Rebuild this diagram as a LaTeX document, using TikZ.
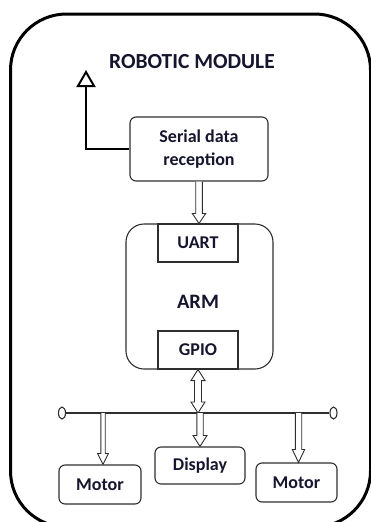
\documentclass[tikz,border=0pt]{standalone}
\usepackage{fontspec}
\setmainfont{Carlito}
\usetikzlibrary{arrows.meta,calc,shapes.geometric}
\definecolor{boxgray}{HTML}{2E2E2E}
\definecolor{txt}{HTML}{15152E}
\newcommand\blkdown[5]{%
  \draw[blk] let \p1=(#1), \p2=(#2) in
    (\x1-#3,\y1) -- (\x1-#3,\y2+#5) -- (\x1-#4,\y2+#5) -- (\x1,\y2)
    -- (\x1+#4,\y2+#5) -- (\x1+#3,\y2+#5) -- (\x1+#3,\y1);}
\newcommand\blkboth[5]{%
  \draw[blk] let \p1=(#1), \p2=(#2) in
    (\x1,\y1) -- (\x1+#4,\y1-#5) -- (\x1+#3,\y1-#5) -- (\x1+#3,\y2+#5)
    -- (\x1+#4,\y2+#5) -- (\x1,\y2) -- (\x1-#4,\y2+#5) -- (\x1-#3,\y2+#5)
    -- (\x1-#3,\y1-#5) -- (\x1-#4,\y1-#5) -- cycle;}
\begin{document}
\begin{tikzpicture}[x=1pt,y=-1pt,
  txtfont/.style={font=\bfseries\fontsize{18}{23}\selectfont, text=txt},
  box/.style={draw=boxgray, line width=1.1pt, rounded corners=6pt, txtfont,
    align=center, inner sep=0pt},
  subbox/.style={draw=boxgray, line width=1.1pt, txtfont, inner sep=0pt},
  blk/.style={draw=boxgray, line width=0.9pt, fill=white, line join=miter}]
\useasboundingbox (0,0) rectangle (371,522);
\clip (0,0) rectangle (371,522);
% outer frame
\node[draw=black, line width=3pt, rounded corners=56pt,
  minimum width=360pt, minimum height=513pt, inner sep=0pt] (frame) at (190.5,270.5) {};
\node[font=\bfseries\fontsize{21.5}{24}\selectfont, text=txt] (title) at (192,62) {ROBOTIC MODULE};
% boxes
\node[box, minimum width=138pt, minimum height=64pt] (ser) at (199,149) {Serial data\\reception};
\node[box, rounded corners=18pt, minimum width=147pt, minimum height=145pt] (arm) at (199.5,296.5) {};
\node[font=\bfseries\fontsize{20.5}{24}\selectfont, text=txt] (armlabel) at (198,302) {ARM};
\node[subbox, minimum width=80pt, minimum height=38pt] (uart) at (198,243) {UART};
\node[subbox, minimum width=80pt, minimum height=38pt] (gpio) at (198,350) {GPIO};
\node[box, minimum width=82pt, minimum height=39pt] (m1) at (100,484.5) {Motor};
\node[box, minimum width=90pt, minimum height=37pt] (disp) at (200,465.5) {Display};
\node[box, minimum width=81pt, minimum height=39pt] (m2) at (296.5,482.5) {Motor};
% bus
\node[draw=boxgray, line width=1.1pt, ellipse, minimum width=7pt, minimum height=12pt, inner sep=0pt] (busL) at (62,413) {};
\node[draw=boxgray, line width=1.1pt, ellipse, minimum width=7pt, minimum height=12pt, inner sep=0pt] (busR) at (333.5,413) {};
\draw[boxgray, line width=1.2pt] (busL) -- (busR);
\coordinate (b1) at (103,413);
\coordinate (b2) at (200,413);
\coordinate (b3) at (298.5,413);
\coordinate (bg) at (199,413);
% output arrow
\coordinate (outtip) at (86,70);
\draw[black, line width=2.2pt, line join=miter,
  -{Triangle[open, length=17pt, width=19pt, line width=2pt]}] (ser.west) -| (outtip);
% block arrows
\blkdown{ser.south}{arm.north}{3.3pt}{6.7pt}{10pt}
\blkboth{gpio.south}{bg}{3.5pt}{7pt}{11pt}
\blkdown{b1}{m1.north}{2.2pt}{5.5pt}{11pt}
\blkdown{b2}{disp.north}{3.2pt}{7pt}{11pt}
\blkdown{b3}{m2.north}{3.2pt}{6.2pt}{13pt}
\end{tikzpicture}
\end{document}
